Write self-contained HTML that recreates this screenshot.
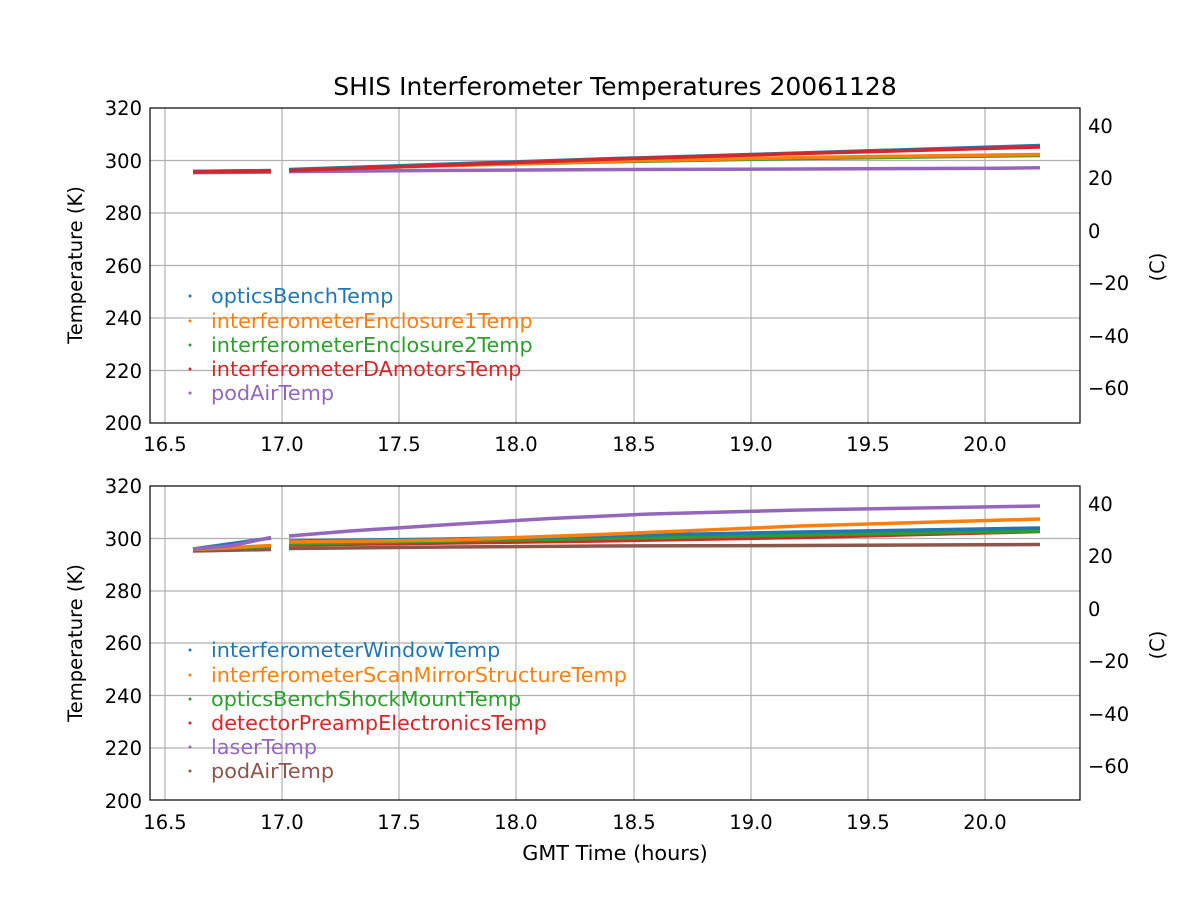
<!DOCTYPE html>
<html><head><meta charset="utf-8"><style>body{margin:0;background:#fff}svg{display:block;font-family:"DejaVu Sans","Liberation Sans",sans-serif}</style></head><body>
<svg width="1200" height="900" viewBox="0 0 1200 900" xmlns="http://www.w3.org/2000/svg">
<rect width="1200" height="900" fill="#fff"/>
<text x="615" y="95" font-size="25" text-anchor="middle">SHIS Interferometer Temperatures 20061128</text>
<g id="ax1">
<g stroke="#b0b0b0" stroke-width="1.2">
<line x1="165" y1="108" x2="165" y2="423"/><line x1="282" y1="108" x2="282" y2="423"/><line x1="399" y1="108" x2="399" y2="423"/><line x1="516" y1="108" x2="516" y2="423"/><line x1="634" y1="108" x2="634" y2="423"/><line x1="751" y1="108" x2="751" y2="423"/><line x1="868" y1="108" x2="868" y2="423"/><line x1="985" y1="108" x2="985" y2="423"/>
<line x1="150" y1="160.5" x2="1080" y2="160.5"/><line x1="150" y1="213" x2="1080" y2="213"/><line x1="150" y1="265.5" x2="1080" y2="265.5"/><line x1="150" y1="318" x2="1080" y2="318"/><line x1="150" y1="370.5" x2="1080" y2="370.5"/>
</g>
<g fill="none" stroke-width="3.5">
<polyline stroke="#9467bd" points="193,172.6 271,172.1"/><polyline stroke="#9467bd" points="289,171.6 430,170.5 600,169.6 800,169 1000,168.2 1040,167.8"/>
<polyline stroke="#2ca02c" points="193,171.5 271,170.7"/><polyline stroke="#2ca02c" points="289,170 450,165.5 600,162 800,158.5 1040,155.5"/>
<polyline stroke="#ff7f0e" points="289,170 450,165.5 600,161.5 800,157.5 1040,154.5"/>
<polyline stroke="#1f77b4" points="193,171.4 271,170.5"/><polyline stroke="#1f77b4" points="289,169.5 450,164 600,159 800,153 1040,145.5"/>
<polyline stroke="#d62728" points="193,172 271,171"/><polyline stroke="#d62728" points="289,170.5 450,165 600,159.5 800,153.5 1040,147"/>
</g>
<rect x="150" y="108" width="930" height="315" fill="none" stroke="#000" stroke-width="1.2"/>
<g font-size="19.5" text-anchor="middle">
<text x="165" y="451">16.5</text><text x="282" y="451">17.0</text><text x="399" y="451">17.5</text><text x="516" y="451">18.0</text><text x="634" y="451">18.5</text><text x="751" y="451">19.0</text><text x="868" y="451">19.5</text><text x="985" y="451">20.0</text>
</g>
<g font-size="19.5" text-anchor="end">
<text x="142" y="115">320</text><text x="142" y="168">300</text><text x="142" y="220">280</text><text x="142" y="273">260</text><text x="142" y="325">240</text><text x="142" y="378">220</text><text x="142" y="430">200</text>
</g>
<g font-size="19.5">
<text x="1088" y="133">40</text><text x="1088" y="185">20</text><text x="1088" y="238">0</text><text x="1088" y="290">−20</text><text x="1088" y="343">−40</text><text x="1088" y="395">−60</text>
</g>
<text transform="translate(82,265) rotate(-90)" font-size="19.5" text-anchor="middle">Temperature (K)</text>
<text transform="translate(1164,267) rotate(-90)" font-size="19.5" text-anchor="middle">(C)</text>
<g font-size="20.8">
<circle cx="190" cy="296" r="1.5" fill="#1f77b4"/><text x="211" y="303" fill="#1f77b4">opticsBenchTemp</text>
<circle cx="190" cy="321" r="1.5" fill="#ff7f0e"/><text x="211" y="328" fill="#ff7f0e">interferometerEnclosure1Temp</text>
<circle cx="190" cy="345" r="1.5" fill="#2ca02c"/><text x="211" y="352" fill="#2ca02c">interferometerEnclosure2Temp</text>
<circle cx="190" cy="369" r="1.5" fill="#d62728"/><text x="211" y="376" fill="#d62728">interferometerDAmotorsTemp</text>
<circle cx="190" cy="393" r="1.5" fill="#9467bd"/><text x="211" y="400" fill="#9467bd">podAirTemp</text>
</g>
</g>
<g id="ax2">
<g stroke="#b0b0b0" stroke-width="1.2">
<line x1="165" y1="486" x2="165" y2="800"/><line x1="282" y1="486" x2="282" y2="800"/><line x1="399" y1="486" x2="399" y2="800"/><line x1="516" y1="486" x2="516" y2="800"/><line x1="634" y1="486" x2="634" y2="800"/><line x1="751" y1="486" x2="751" y2="800"/><line x1="868" y1="486" x2="868" y2="800"/><line x1="985" y1="486" x2="985" y2="800"/>
<line x1="150" y1="538.5" x2="1080" y2="538.5"/><line x1="150" y1="591" x2="1080" y2="591"/><line x1="150" y1="643" x2="1080" y2="643"/><line x1="150" y1="695.5" x2="1080" y2="695.5"/><line x1="150" y1="748" x2="1080" y2="748"/>
</g>
<g fill="none" stroke-width="3.5">
<polyline stroke="#8c564b" points="193,551 271,549.5"/><polyline stroke="#8c564b" points="289,548.5 450,547 600,546 800,545.5 1040,544.5"/>
<polyline stroke="#d62728" points="193,550 271,546"/><polyline stroke="#d62728" points="289,545 450,543 600,541 800,537.5 1040,531.5"/>
<polyline stroke="#2ca02c" points="193,549.5 271,546.5"/><polyline stroke="#2ca02c" points="289,544 450,541 600,538.5 800,535 1040,531"/>
<polyline stroke="#1f77b4" points="289,541 450,539 600,536 800,532 1040,528"/>
<polyline stroke="#ff7f0e" points="193,549.5 271,545.5"/><polyline stroke="#ff7f0e" points="289,542 450,540 600,534.5 800,526 1040,519"/>
<polyline stroke="#1f77b4" points="193,549 271,538"/>
<polyline stroke="#9467bd" points="193,549 230,546 271,537.5"/><polyline stroke="#9467bd" points="289,536 350,531 450,524.5 550,518.5 650,514 800,510 950,507.5 1040,506"/>
</g>
<rect x="150" y="486" width="930" height="314" fill="none" stroke="#000" stroke-width="1.2"/>
<g font-size="19.5" text-anchor="middle">
<text x="165" y="829">16.5</text><text x="282" y="829">17.0</text><text x="399" y="829">17.5</text><text x="516" y="829">18.0</text><text x="634" y="829">18.5</text><text x="751" y="829">19.0</text><text x="868" y="829">19.5</text><text x="985" y="829">20.0</text>
</g>
<text x="615" y="860" font-size="20.8" text-anchor="middle">GMT Time (hours)</text>
<g font-size="19.5" text-anchor="end">
<text x="142" y="493">320</text><text x="142" y="546">300</text><text x="142" y="598">280</text><text x="142" y="650">260</text><text x="142" y="703">240</text><text x="142" y="755">220</text><text x="142" y="808">200</text>
</g>
<g font-size="19.5">
<text x="1088" y="511">40</text><text x="1088" y="563">20</text><text x="1088" y="616">0</text><text x="1088" y="668">−20</text><text x="1088" y="721">−40</text><text x="1088" y="773">−60</text>
</g>
<text transform="translate(82,643) rotate(-90)" font-size="19.5" text-anchor="middle">Temperature (K)</text>
<text transform="translate(1164,645) rotate(-90)" font-size="19.5" text-anchor="middle">(C)</text>
<g font-size="20.8">
<circle cx="190" cy="650" r="1.5" fill="#1f77b4"/><text x="211" y="657" fill="#1f77b4">interferometerWindowTemp</text>
<circle cx="190" cy="675" r="1.5" fill="#ff7f0e"/><text x="211" y="682" fill="#ff7f0e">interferometerScanMirrorStructureTemp</text>
<circle cx="190" cy="699" r="1.5" fill="#2ca02c"/><text x="211" y="706" fill="#2ca02c">opticsBenchShockMountTemp</text>
<circle cx="190" cy="723" r="1.5" fill="#d62728"/><text x="211" y="730" fill="#d62728">detectorPreampElectronicsTemp</text>
<circle cx="190" cy="747" r="1.5" fill="#9467bd"/><text x="211" y="754" fill="#9467bd">laserTemp</text>
<circle cx="190" cy="771" r="1.5" fill="#8c564b"/><text x="211" y="778" fill="#8c564b">podAirTemp</text>
</g>
</g>
</svg>
</body></html>
